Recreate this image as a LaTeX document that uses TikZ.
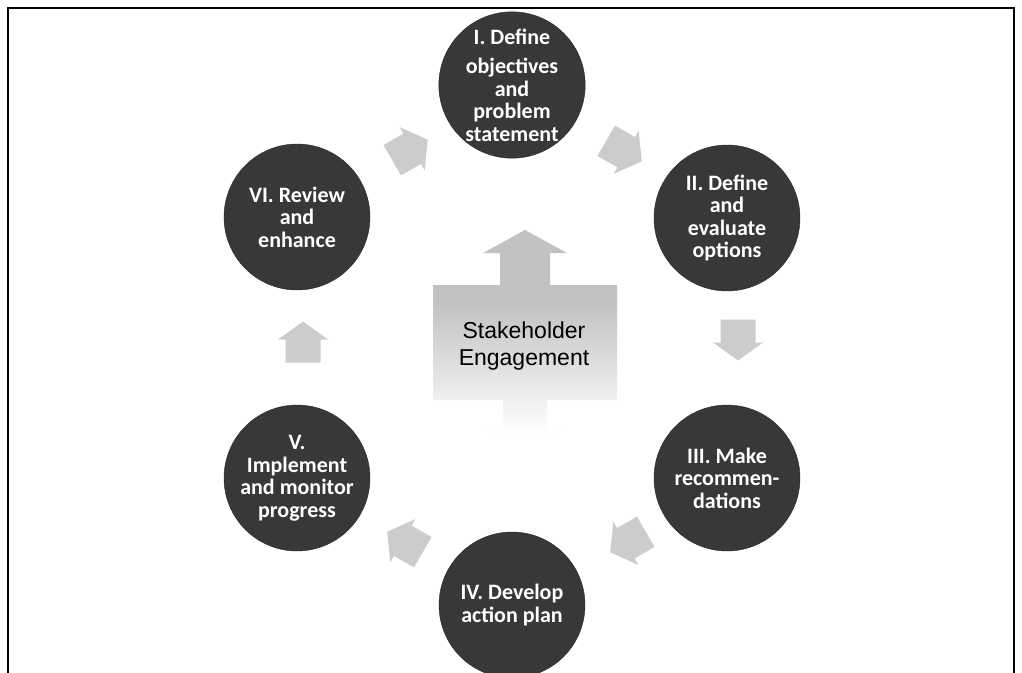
\documentclass[tikz,border=0pt]{standalone}
\usepackage{fontspec}
\newfontfamily\stepfont{Carlito}
\newfontfamily\hubfont{Liberation Sans}
\usetikzlibrary{positioning}
\pgfdeclareverticalshading{hubfade}{100bp}{color(0bp)=(white); color(28bp)=(white); color(58bp)=(black!24); color(100bp)=(black!24)}
\tikzset{
  stage/.style={draw=black!85, circle, fill=black!78, minimum size=146pt, inner sep=0pt, align=center, text=white, font=\stepfont\bfseries\fontsize{22}{22.5}\selectfont},
  cycarrow/.pic={
    \fill[black!20] (-20.5,-17.5) -- (2.5,-17.5) -- (2.5,-25) -- (20.5,0) -- (2.5,25) -- (2.5,17.5) -- (-20.5,17.5) -- cycle;
  },
}

\begin{document}
\begin{tikzpicture}[x=1pt, y=-1pt]
\useasboundingbox (0,0) rectangle (1022,672);
\clip (0,0) rectangle (1022,672);

\draw[line width=2pt] (8,690) -- (8,8) -- (1014,8) -- (1014,690);

% central up/down arrow
\shade[shading=hubfade] (525,230) -- (567,253) -- (550,253) -- (550,285) -- (617,285) -- (617,400)
  -- (547,400) -- (547,428) -- (565,428) -- (525,446) -- (485,428) -- (503,428) -- (503,400)
  -- (433,400) -- (433,285) -- (500,285) -- (500,253) -- (483,253) -- cycle;
\node[font=\hubfont\fontsize{23}{27}\selectfont, align=center] (hub) at (524,346) {Stakeholder\\Engagement};

\node[stage] (obj) at (512,85) {I. Define\\[7pt]objectives\\and\\problem\\statement};
\node[stage] (opt) at (727,218) {II. Define\\and\\evaluate\\options};
\node[stage] (rec) at (727,478) {III. Make\\recommen-\\dations};
\node[stage] (plan) at (512,605) {IV. Develop\\action plan};
\node[stage] (impl) at (297,478) {V.\\Implement\\and monitor\\progress};
\node[stage] (rev) at (297,217) {VI. Review\\and\\enhance};

\pic[rotate=30] (a1) at (410,150) {cycarrow};
\pic[rotate=-30] (a2) at (624,151) {cycarrow};
\pic[rotate=-90] (a3) at (738,340) {cycarrow};
\pic[rotate=-150] (a4) at (628,542) {cycarrow};
\pic[rotate=150] (a5) at (405,542) {cycarrow};
\pic[rotate=90] (a6) at (303,342) {cycarrow};

\end{tikzpicture}
\end{document}
